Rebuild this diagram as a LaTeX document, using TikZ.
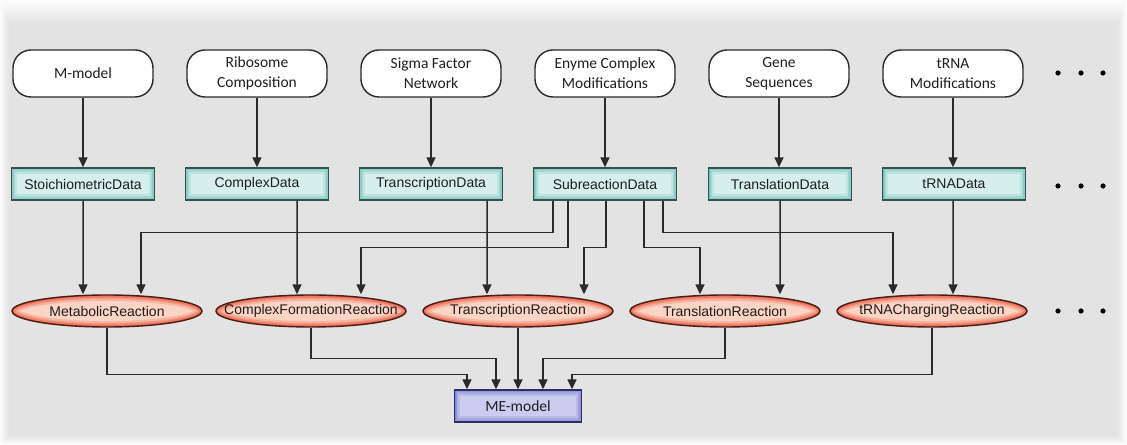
\documentclass[tikz,border=0pt]{standalone}
\usepackage{fontspec}
\setmainfont{Liberation Sans}
\newfontfamily\carl{Carlito}
\usetikzlibrary{arrows.meta,shapes.geometric}

\definecolor{panel}{HTML}{E3E3E3}
\definecolor{ink}{HTML}{1E1E1E}
\definecolor{wire}{HTML}{2A2A2A}
% data boxes
\definecolor{datC}{HTML}{D6EFED}
\definecolor{datE}{HTML}{72C2BB}
\definecolor{datB}{HTML}{35504E}
% reactions
\definecolor{rxnC}{HTML}{FCD4C5}
\definecolor{rxnE}{HTML}{E65C42}
\definecolor{rxnB}{HTML}{4A1E16}
% model
\definecolor{meC}{HTML}{CACDEF}
\definecolor{meE}{HTML}{8085D2}
\definecolor{meB}{HTML}{2C2F6A}

\tikzset{
  rectglow/.style 2 args={fill=#2, path picture={
    \foreach \w/\m in {12/25,8/50,5/75,2/100}{
      \draw[line width=\w pt, #1!\m!#2]
        (path picture bounding box.south west) rectangle (path picture bounding box.north east);}
  }},
  ellglow/.style 2 args={fill=#2, path picture={
    \foreach \w/\m in {12/25,8/50,5/75,2/100}{
      \draw[line width=\w pt, #1!\m!#2]
        (path picture bounding box.center) ellipse [x radius=95bp, y radius=16bp];}
  }},
  src/.style={draw=wire, line width=1.4bp, fill=white, rounded corners=18bp,
    minimum width=140bp, minimum height=47bp, align=center, text=ink,
    font=\carl\fontsize{15.5bp}{20bp}\selectfont, inner sep=0pt},
  dat/.style={draw=datB, line width=1.4bp, rectglow={datE}{datC},
    minimum width=143bp, minimum height=32bp, text=ink,
    font=\fontsize{14bp}{16bp}\selectfont, inner sep=0pt},
  rxn/.style={ellipse, draw=rxnB, line width=1.4bp, ellglow={rxnE}{rxnC},
    minimum width=190bp, minimum height=32bp, text=ink,
    font=\fontsize{14bp}{16bp}\selectfont, inner sep=0pt},
  mdl/.style={draw=meB, line width=1.4bp, rectglow={meE}{meC},
    minimum width=127bp, minimum height=32bp, text=ink,
    font=\carl\fontsize{15.5bp}{18bp}\selectfont, inner sep=0pt},
  arr/.style={draw=wire, line width=1.5bp, -{Triangle[length=10bp,width=9bp]}},
  dot/.style={fill=black}
}

\begin{document}
\begin{tikzpicture}[x=1bp,y=-1bp]
\useasboundingbox (0,0) rectangle (1127,445);

% soft-edged panel
\fill[white] (0,0) rectangle (1127,445);
\foreach \i in {0,...,9}{
  \pgfmathsetmacro\p{10+10*\i}
  \fill[panel!\p!white] (\i,2.6*\i) rectangle (1127-\i,445-\i);
}

% input sources
\node[src] (mm)  at (83,73.5)  {M-model};
\node[src] (rc)  at (257,73.5) {Ribosome\\Composition};
\node[src] (sf)  at (431,73.5) {Sigma Factor\\Network};
\node[src] (ec)  at (605,73.5) {Enyme Complex\\Modifications};
\node[src] (gs)  at (779,73.5) {Gene\\Sequences};
\node[src] (tm)  at (953,73.5) {tRNA\\Modifications};

% data classes
\node[dat] (sd)  at (83,184)  {StoichiometricData};
\node[dat] (cd)  at (257,184) {ComplexData};
\node[dat] (td)  at (431,184) {TranscriptionData};
\node[dat] (sub) at (605,184) {SubreactionData};
\node[dat] (tld) at (780,184) {TranslationData};
\node[dat] (trd) at (954,184) {tRNAData};

% reactions
\node[rxn] (met)  at (107,311) {\makebox[0pt]{MetabolicReaction}};
\node[rxn] (cfr)  at (311,311) {\makebox[0pt]{ComplexFormationReaction}};
\node[rxn] (trx)  at (518,311) {\makebox[0pt]{TranscriptionReaction}};
\node[rxn] (trl)  at (725,311) {\makebox[0pt]{TranslationReaction}};
\node[rxn] (trna) at (932,311) {\makebox[0pt]{tRNAChargingReaction}};

% model
\node[mdl] (me) at (518,406) {ME-model};

% continuation marks
\foreach \y in {73,186,311}{
  \foreach \x in {1058,1081,1103}{\fill[dot] (\x,\y) circle (2.6bp);}
}

% sources -> data
\draw[arr] (mm.south) -- (sd.north);
\draw[arr] (rc.south) -- (cd.north);
\draw[arr] (sf.south) -- (td.north);
\draw[arr] (ec.south) -- (sub.north);
\draw[arr] (gs.south) -- ([xshift=-1bp]tld.north);
\draw[arr] (tm.south) -- ([xshift=-1bp]trd.north);

% data -> reactions
\draw[arr] (sd.south) -- ([xshift=-24bp]met.north);
\draw[arr] ([xshift=40bp]cd.south) -- ([xshift=-14bp]cfr.north);
\draw[arr] ([xshift=56bp]td.south) -- ([xshift=-31bp]trx.north);
\draw[arr] (tld.south) -- ([xshift=55bp]trl.north);
\draw[arr] ([xshift=-1bp]trd.south) -- ([xshift=21bp]trna.north);

% subreactions feed every reaction
\draw[arr] ([xshift=-52bp]sub.south) -- ++(0,32) -| ([xshift=34bp]met.north);
\draw[arr] ([xshift=-37bp]sub.south) -- ++(0,47) -| ([xshift=50bp]cfr.north);
\draw[arr] ([xshift=1bp]sub.south)   -- ++(0,47) -| ([xshift=66bp]trx.north);
\draw[arr] ([xshift=39bp]sub.south)  -- ++(0,47) -| ([xshift=-25bp]trl.north);
\draw[arr] ([xshift=58bp]sub.south)  -- ++(0,32) -| ([xshift=-39bp]trna.north);

% reactions -> model
\draw[arr] (met.south)  -- ++(0,47) -| ([xshift=-51bp]me.north);
\draw[arr] (cfr.south)  -- ++(0,31) -| ([xshift=-22bp]me.north);
\draw[arr] (trx.south)  -- (me.north);
\draw[arr] (trl.south)  -- ++(0,31) -| ([xshift=25bp]me.north);
\draw[arr] (trna.south) -- ++(0,47) -| ([xshift=54bp]me.north);
\end{tikzpicture}
\end{document}
